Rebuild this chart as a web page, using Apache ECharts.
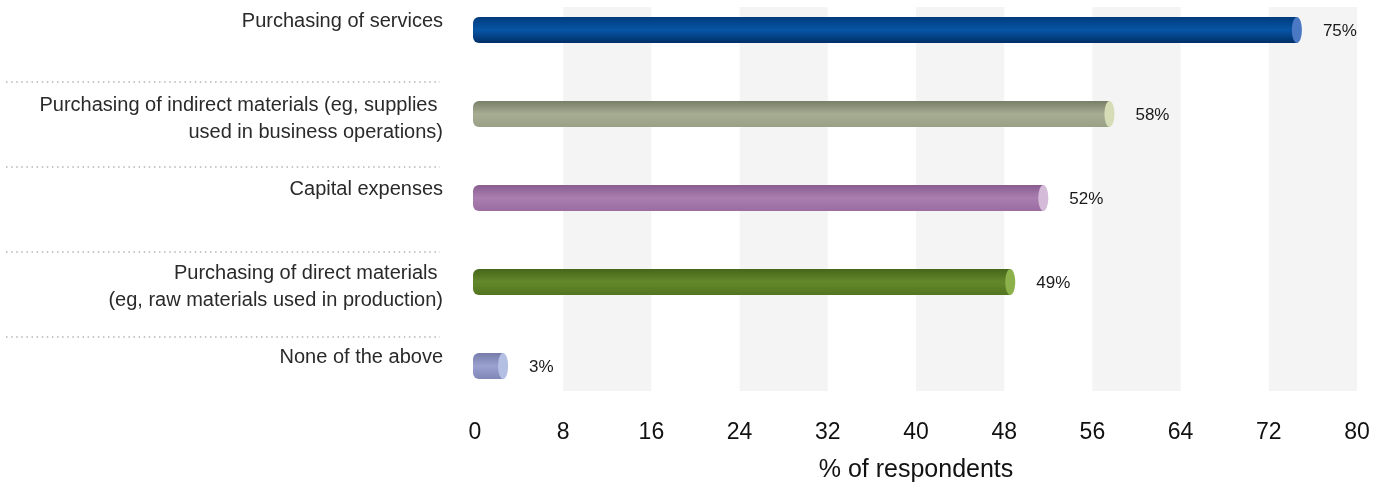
<!DOCTYPE html>
<html>
<head>
<meta charset="utf-8">
<script src="https://cdn.jsdelivr.net/npm/echarts@6/dist/echarts.min.js"></script>
<style>
html,body{margin:0;padding:0;background:#fff;}
#chart{width:1387px;height:487px;}
</style>
</head>
<body>
<div id="chart"></div>
<script>
const categories = [
  'Purchasing of services',
  'Purchasing of indirect materials (eg, supplies \nused in business operations)',
  'Capital expenses',
  'Purchasing of direct materials \n(eg, raw materials used in production)',
  'None of the above'
];
const values = [75, 58, 52, 49, 3];
const xTicks = [0, 8, 16, 24, 32, 40, 48, 56, 64, 72, 80];
const xAxisName = '% of respondents';

// [top edge, light middle, bottom edge, end cap]
const barColors = [
  ['#003b7c', '#0755a6', '#002f66', '#4a78c2'],
  ['#777f66', '#a6ad93', '#98a085', '#d6dcb6'],
  ['#8a5c90', '#aa7fb0', '#9a6ca0', '#d4bcd9'],
  ['#46661a', '#63882b', '#52741f', '#8cb04a'],
  ['#767ba9', '#9ba2d0', '#8087b8', '#b3bfe3']
];

const FONT = '"Liberation Sans", Arial, Helvetica, sans-serif';

const chart = echarts.init(document.getElementById('chart'), null, {renderer: 'canvas'});

const option = {
  animation: false,
  backgroundColor: '#ffffff',
  grid: [
    {left: 475, right: 30, top: 7, bottom: 96, containLabel: false, outerBoundsMode: 'none'},
    {left: 6, width: 434, top: 82, height: 255, containLabel: false, outerBoundsMode: 'none'}
  ],
  xAxis: [
    {
      gridIndex: 0, type: 'value', min: 0, max: 80, interval: 8,
      axisLine: {show: false}, axisTick: {show: false}, splitLine: {show: false},
      splitArea: {show: true, areaStyle: {color: ['rgba(0,0,0,0)', '#f4f4f4']}},
      axisLabel: {
        margin: 30, fontSize: 23, color: '#111', fontFamily: FONT,
        formatter: v => xTicks.includes(v) ? String(v) : ''
      },
      name: xAxisName, nameLocation: 'middle', nameGap: 67,
      nameTextStyle: {fontSize: 25, color: '#111', fontFamily: FONT}
    },
    {gridIndex: 1, type: 'value', min: 0, max: 1, show: false}
  ],
  yAxis: [
    {gridIndex: 0, type: 'value', min: -0.274, max: 4.298, inverse: true, show: false},
    {
      gridIndex: 1, type: 'value', min: 0, max: 3, interval: 1,
      axisLine: {show: false}, axisTick: {show: false}, axisLabel: {show: false},
      splitLine: {show: true, lineStyle: {color: '#b4b4b4', width: 1.5, type: [1.5, 3.6]}}
    }
  ],
  series: [
    {
      type: 'custom',
      xAxisIndex: 0, yAxisIndex: 0,
      data: values.map((v, i) => [v, i]),
      encode: {x: 0, y: 1},
      clip: false,
      renderItem: function (params, api) {
        const v = api.value(0);
        const idx = api.value(1);
        const c = barColors[idx];
        const p0 = api.coord([0, idx]);
        const p1 = api.coord([v, idx]);
        const h = 26, rx = 5;
        const y = p0[1] - h / 2;
        const endC = p1[0] - rx;
        const grad = new echarts.graphic.LinearGradient(0, 0, 0, 1, [
          {offset: 0, color: c[0]},
          {offset: 0.5, color: c[1]},
          {offset: 1, color: c[2]}
        ]);
        return {
          type: 'group',
          children: [
            {
              type: 'rect',
              shape: {x: p0[0] - 2, y: y, width: Math.max(endC - p0[0] + 2, 1), height: h, r: [6, 0, 0, 6]},
              style: {fill: grad}
            },
            {
              type: 'ellipse',
              shape: {cx: endC, cy: p0[1], rx: rx, ry: h / 2},
              style: {fill: c[3]}
            },
            {
              type: 'text',
              style: {
                text: v + '%', x: p1[0] + 21, y: p0[1] + 1,
                verticalAlign: 'middle', align: 'left',
                fontSize: 17, fill: '#1a1a1a', fontFamily: FONT
              }
            },
            {
              type: 'text',
              style: {
                text: categories[idx], x: p0[0] - 32, y: p0[1] - 22,
                verticalAlign: 'top', align: 'right', lineHeight: 27,
                fontSize: 20, fill: '#2a2a2a', fontFamily: FONT
              }
            }
          ]
        };
      }
    },
    {type: 'line', xAxisIndex: 1, yAxisIndex: 1, data: [], silent: true}
  ]
};
chart.setOption(option);
</script>
</body>
</html>
